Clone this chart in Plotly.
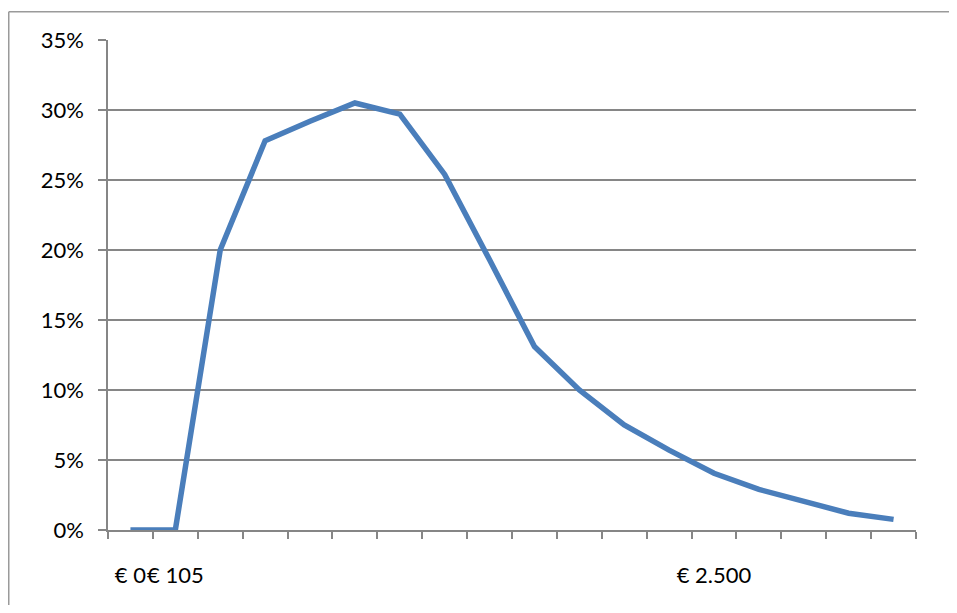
import plotly.graph_objects as go

# Data
categories = list(range(18))
category_labels = ["€ 0", "€ 105", "", "", "", "", "", "", "", "", "", "", "", "€ 2.500", "", "", "", ""]
share = [0.0, 0.0, 20.0, 27.8, 29.2, 30.5, 29.7, 25.4, 19.3, 13.1, 10.0, 7.5, 5.7, 4.05, 2.9, 2.0, 1.2, 0.76]

y_ticks = [0, 5, 10, 15, 20, 25, 30, 35]
y_tick_labels = [f"{v}%" for v in y_ticks]

OFF = 8  # page body margin
PAGE_W, PAGE_H = 957, 613
W, H = PAGE_W - 2 * OFF, PAGE_H - 2 * OFF   # avoid scrollbars
# plot area in page pixels: x 108..916, y 40..530
L, T = 108 - OFF, 40 - OFF
R, B = (W + OFF) - 916, (H + OFF) - 530
pw, ph = W - L - R, H - T - B

grid = "#868686"
font = dict(family="Lato, 'Open Sans', sans-serif", size=22, color="#000000")

fig = go.Figure()
fig.add_trace(go.Scatter(
    x=categories, y=share, mode="lines",
    line=dict(color="#4A7EBB", width=5.5),
    showlegend=False, hoverinfo="skip",
))

lab_idx = [i for i, t in enumerate(category_labels) if t]
fig.update_xaxes(
    range=[-0.5, len(categories) - 0.5],
    tickmode="array",
    tickvals=lab_idx,
    ticktext=[category_labels[i] for i in lab_idx],
    tickangle=0, automargin=False,
    ticks="", showgrid=False, zeroline=False,
    showline=True, linecolor=grid, linewidth=1.5,
    tickfont=font, ticklabelstandoff=25,
    minor=dict(tickmode="array",
               tickvals=[i - 0.5 for i in range(len(categories) + 1)],
               ticks="outside", ticklen=7, tickcolor=grid, tickwidth=1.5,
               showgrid=False),
    fixedrange=True,
)
fig.update_yaxes(
    range=[0, 35],
    tickmode="array", tickvals=y_ticks, ticktext=y_tick_labels,
    ticks="outside", ticklen=8, tickcolor=grid, tickwidth=1.5,
    showgrid=True, gridcolor=grid, gridwidth=1.5,
    zeroline=False, showline=True, linecolor=grid, linewidth=1.5,
    tickfont=font, ticklabelstandoff=10, automargin=False,
    fixedrange=True,
)

# outer chart border: only top and left edges are visible (page coords x=8, y=11)
bx = (8 - OFF - L + 0.75) / pw
by = (T + ph - (11 - OFF) - 0.75) / ph
border = dict(color="#9a9a9a", width=1.5)
fig.add_shape(type="line", xref="paper", yref="paper",
              x0=bx, x1=(W + 20 - L) / pw, y0=by, y1=by, line=border, layer="below")
fig.add_shape(type="line", xref="paper", yref="paper",
              x0=bx, x1=bx, y0=by, y1=-(H + 20 - T - ph) / ph, line=border, layer="below")

fig.update_layout(
    width=W, height=H,
    margin=dict(l=L, r=R, t=T, b=B),
    paper_bgcolor="white", plot_bgcolor="white",
    font=font,
)

fig.write_html("out.html", config={"displayModeBar": False})
